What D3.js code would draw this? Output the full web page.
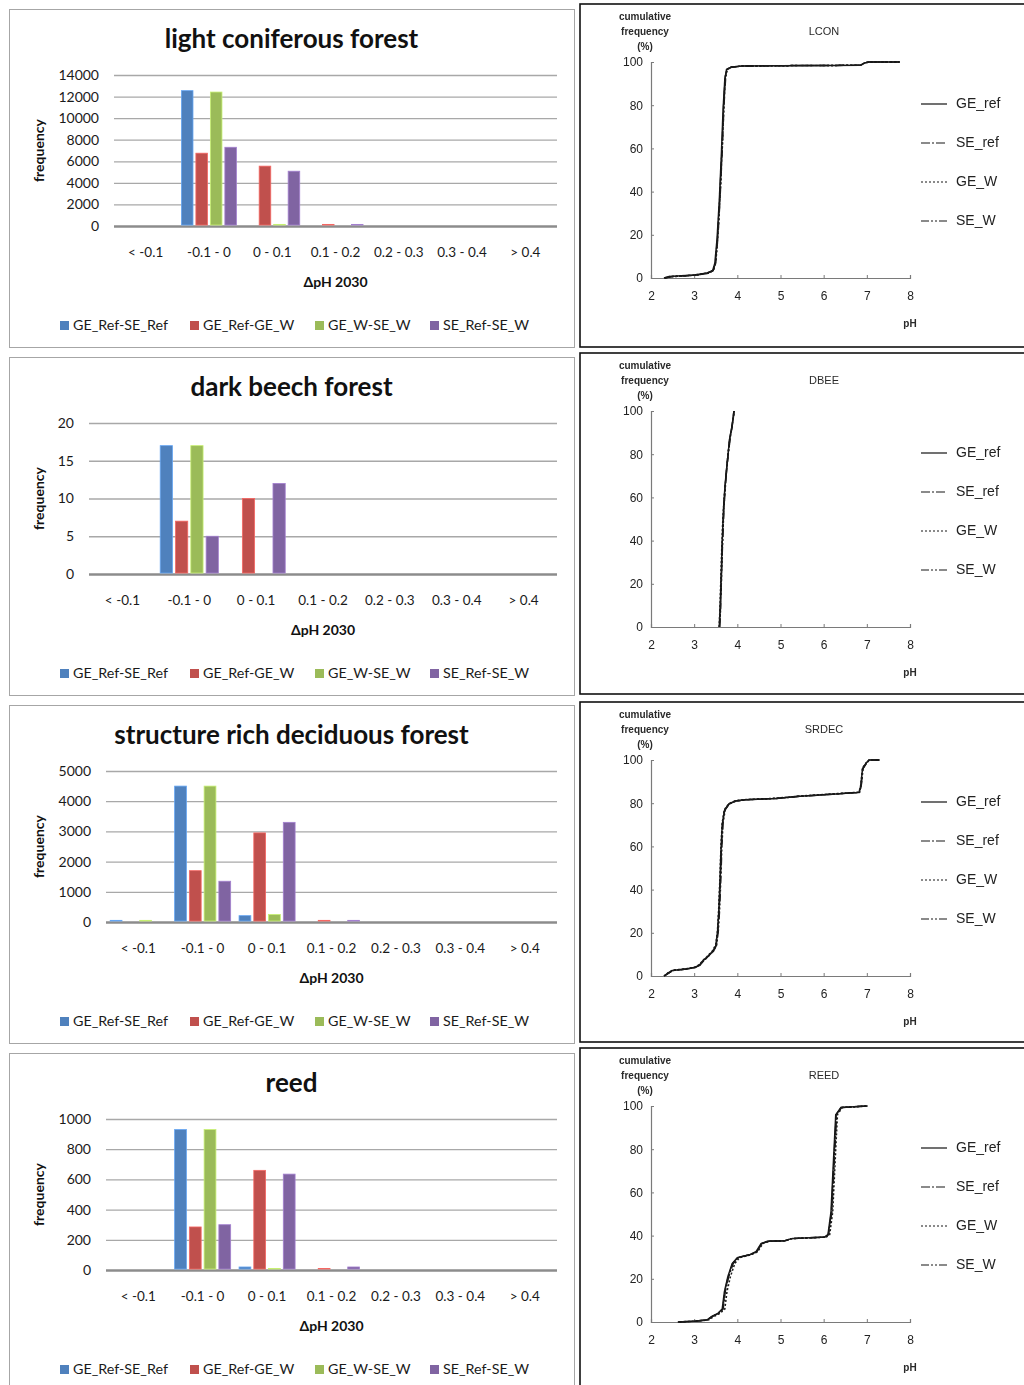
<!DOCTYPE html>
<html>
<head>
<meta charset="utf-8">
<script src="https://cdn.jsdelivr.net/npm/d3@7"></script>
<style>
  html, body { margin: 0; padding: 0; background: #fff; }
  svg { display: block; }
</style>
</head>
<body>
<svg id="chart" width="1024" height="1385"></svg>
<script>
// ---- Histogram data: frequency of pH difference classes (2030) ----
const categories = ["< -0.1", "-0.1 - 0", "0 - 0.1", "0.1 - 0.2", "0.2 - 0.3", "0.3 - 0.4", "> 0.4"];
const diffSeries = ["GE_Ref-SE_Ref", "GE_Ref-GE_W", "GE_W-SE_W", "SE_Ref-SE_W"];
const diffColors = ["#4f81bd", "#c0504d", "#9bbb59", "#8064a2"];

// one row per series, one value per category
const lconFreq = [
  [0, 12550, 0, 0, 0, 0, 0],
  [0, 6750, 5550, 150, 0, 0, 0],
  [0, 12420, 150, 0, 0, 0, 0],
  [0, 7300, 5080, 150, 0, 0, 0]
];
const dbeeFreq = [
  [0, 17, 0, 0, 0, 0, 0],
  [0, 7, 10, 0, 0, 0, 0],
  [0, 17, 0, 0, 0, 0, 0],
  [0, 5, 12, 0, 0, 0, 0]
];
const srdecFreq = [
  [55, 4500, 210, 0, 0, 0, 0],
  [0, 1700, 2950, 55, 0, 0, 0],
  [55, 4500, 250, 0, 0, 0, 0],
  [0, 1350, 3300, 55, 0, 0, 0]
];
const reedFreq = [
  [0, 930, 20, 0, 0, 0, 0],
  [0, 285, 660, 10, 0, 0, 0],
  [0, 930, 10, 0, 0, 0, 0],
  [0, 300, 635, 20, 0, 0, 0]
];

const lconTicks = [0, 2000, 4000, 6000, 8000, 10000, 12000, 14000];
const dbeeTicks = [0, 5, 10, 15, 20];
const srdecTicks = [0, 1000, 2000, 3000, 4000, 5000];
const reedTicks = [0, 200, 400, 600, 800, 1000];

const histTitles = ["light coniferous forest", "dark beech forest", "structure rich deciduous forest", "reed"];

// ---- Cumulative frequency curves: [pH, cumulative %] ----
const cumSeries = ["GE_ref", "SE_ref", "GE_W", "SE_W"];
const cumTitles = ["LCON", "DBEE", "SRDEC", "REED"];
const phTicks = [2, 3, 4, 5, 6, 7, 8];
const pctTicks = [0, 20, 40, 60, 80, 100];

const lconGeRef = [[2.30,0],[2.42,0.7],[2.7,1.0],[3.0,1.4],[3.3,2.3],[3.43,3.5],[3.48,7],[3.53,18],[3.58,35],[3.63,57],[3.67,78],[3.71,92],[3.75,96.5],[3.85,97.6],[4.1,98.1],[5.0,98.3],[6.0,98.4],[6.85,98.5],[6.95,99.6],[7.05,100],[7.76,100]];
const lconSeRef = [[2.32,0],[2.45,0.6],[2.72,0.9],[3.02,1.3],[3.32,2.2],[3.44,3.4],[3.49,7],[3.54,18],[3.59,36],[3.64,58],[3.68,79],[3.72,93],[3.76,96.6],[3.86,97.6],[4.1,98.1],[5.0,98.3],[6.0,98.4],[6.86,98.5],[6.96,99.6],[7.05,100],[7.76,100]];
const lconGeW = [[2.31,0],[2.44,0.7],[2.7,0.9],[3.0,1.4],[3.31,2.3],[3.44,3.6],[3.5,8],[3.55,20],[3.6,38],[3.65,60],[3.69,81],[3.72,93],[3.76,96.7],[3.86,97.7],[4.1,98.1],[5.0,98.3],[6.0,98.4],[6.85,98.5],[6.95,99.6],[7.05,100],[7.76,100]];
const lconSeW = [[2.33,0],[2.46,0.6],[2.74,0.9],[3.03,1.3],[3.33,2.2],[3.45,3.5],[3.5,7],[3.55,19],[3.6,37],[3.65,59],[3.69,80],[3.73,93],[3.77,96.6],[3.87,97.6],[4.1,98.1],[5.0,98.3],[6.0,98.4],[6.86,98.5],[6.96,99.6],[7.05,100],[7.76,100]];

const dbeeGeRef = [[3.58,0],[3.6,8],[3.62,20],[3.64,33],[3.66,45],[3.68,55],[3.71,64],[3.74,71],[3.78,79],[3.82,87],[3.86,91],[3.89,95],[3.92,100]];
const dbeeSeRef = [[3.59,0],[3.61,9],[3.63,22],[3.65,36],[3.67,47],[3.69,57],[3.72,66],[3.76,74],[3.8,82],[3.84,88],[3.88,93],[3.9,96],[3.93,100]];
const dbeeGeW = [[3.58,0],[3.6,10],[3.62,24],[3.64,37],[3.66,48],[3.69,58],[3.72,66],[3.75,73],[3.79,81],[3.83,88],[3.87,92],[3.9,96],[3.92,100]];
const dbeeSeW = [[3.59,0],[3.61,8],[3.63,21],[3.65,34],[3.67,46],[3.7,58],[3.73,67],[3.76,75],[3.8,83],[3.83,88],[3.87,92],[3.9,96],[3.93,100]];

const srdecGeRef = [[2.30,0],[2.4,1.5],[2.5,2.6],[2.8,3.2],[3.0,3.9],[3.12,5],[3.2,7],[3.3,8.8],[3.43,11.5],[3.5,14],[3.54,20],[3.57,30],[3.6,45],[3.62,58],[3.65,70],[3.7,76.5],[3.8,79.5],[3.95,81],[4.2,81.6],[4.9,82.2],[5.45,83.2],[6.2,84.2],[6.82,85],[6.86,88],[6.9,96],[6.98,98.5],[7.05,100],[7.29,100]];
const srdecSeRef = [[2.31,0],[2.41,1.4],[2.52,2.6],[2.82,3.2],[3.02,3.9],[3.13,5],[3.21,7],[3.31,8.8],[3.44,11.5],[3.51,14],[3.55,21],[3.58,31],[3.61,46],[3.63,59],[3.66,71],[3.71,77],[3.81,79.8],[3.96,81],[4.2,81.6],[4.9,82.2],[5.45,83.2],[6.2,84.2],[6.83,85],[6.87,88.5],[6.91,96],[6.99,98.5],[7.06,100],[7.29,100]];
const srdecGeW = [[2.30,0],[2.4,1.6],[2.5,2.7],[2.8,3.3],[3.0,4.0],[3.12,5.2],[3.2,7.2],[3.3,9],[3.43,11.8],[3.5,14.5],[3.54,21],[3.57,32],[3.6,47],[3.62,60],[3.65,71],[3.7,77],[3.8,79.8],[3.95,81.1],[4.2,81.7],[4.9,82.3],[5.45,83.3],[6.2,84.3],[6.82,85.1],[6.86,88.5],[6.9,96.5],[6.98,98.6],[7.05,100],[7.29,100]];
const srdecSeW = [[2.31,0],[2.42,1.5],[2.52,2.6],[2.82,3.2],[3.02,3.9],[3.14,5.1],[3.22,7.1],[3.32,8.9],[3.45,11.6],[3.52,14.2],[3.56,21],[3.59,31],[3.62,46],[3.64,59],[3.67,71],[3.72,77],[3.82,79.8],[3.97,81],[4.2,81.6],[4.9,82.2],[5.45,83.2],[6.2,84.2],[6.83,85],[6.87,88],[6.91,96],[6.99,98.5],[7.06,100],[7.29,100]];

const reedGeRef = [[2.62,0],[3.0,0.4],[3.3,1],[3.4,2.5],[3.55,4],[3.65,6],[3.7,14],[3.78,21],[3.88,27],[4.0,29.8],[4.3,31.3],[4.43,32.5],[4.55,36.3],[4.7,37.4],[5.1,37.6],[5.25,38.6],[6.02,39.3],[6.1,40.5],[6.17,51],[6.24,80],[6.28,96],[6.4,99.3],[7.02,100]];
const reedSeRef = [[2.64,0],[3.02,0.4],[3.32,1],[3.42,2.6],[3.57,4],[3.67,6],[3.72,14],[3.8,21],[3.9,27],[4.02,29.8],[4.32,31.3],[4.45,32.5],[4.57,36.3],[4.72,37.4],[5.1,37.6],[5.26,38.6],[6.03,39.3],[6.11,40.5],[6.18,51],[6.25,80],[6.29,96],[6.41,99.3],[7.02,100]];
const reedGeW = [[2.66,0],[3.04,0.4],[3.34,1],[3.45,2.5],[3.6,4],[3.71,6],[3.76,14],[3.84,21],[3.94,27],[4.05,29.8],[4.34,31.3],[4.47,32.5],[4.59,36.3],[4.74,37.4],[5.12,37.6],[5.27,38.6],[6.06,39.3],[6.14,40.5],[6.21,51],[6.28,80],[6.32,96],[6.43,99.3],[7.02,100]];
const reedSeW = [[2.63,0],[3.01,0.4],[3.31,1],[3.41,2.5],[3.56,4],[3.66,6],[3.71,14],[3.79,21],[3.89,27],[4.01,29.8],[4.31,31.3],[4.44,32.5],[4.56,36.3],[4.71,37.4],[5.1,37.6],[5.25,38.6],[6.03,39.3],[6.11,40.5],[6.19,51],[6.26,80],[6.3,96],[6.41,99.3],[7.02,100]];

const histData = [
  { freq: lconFreq, ticks: lconTicks },
  { freq: dbeeFreq, ticks: dbeeTicks },
  { freq: srdecFreq, ticks: srdecTicks },
  { freq: reedFreq, ticks: reedTicks }
];
const cumData = [
  [lconGeRef, lconSeRef, lconGeW, lconSeW],
  [dbeeGeRef, dbeeSeRef, dbeeGeW, dbeeSeW],
  [srdecGeRef, srdecSeRef, srdecGeW, srdecSeW],
  [reedGeRef, reedSeRef, reedGeW, reedSeW]
];

// ---- layout ----
const svg = d3.select("#chart");
const histTops = [9, 357, 705, 1053];
const histPlotLeft = [114, 89, 106, 106];
const cumTops = [4, 353, 702, 1048];
const cumHeights = [343, 341, 340, 400];
const dashes = [null, "9,2,2,2", "2,2", "8,2,2,2,2,2"];

const defs = svg.append("defs");
defs.append("filter").attr("id", "soft")
  .attr("x", "-5%").attr("y", "-5%").attr("width", "110%").attr("height", "110%")
  .append("feGaussianBlur").attr("stdDeviation", 0.45);

// ---- histograms ----
histData.forEach((d, i) => {
  const top = histTops[i];
  const g = svg.append("g");
  g.append("rect")
    .attr("x", 9.5).attr("y", top + 0.5).attr("width", 565).attr("height", 338)
    .attr("fill", "#fff").attr("stroke", "#a6a6a6").attr("stroke-width", 1);

  const left = histPlotLeft[i], right = 557;
  const yTop = top + 66, yBot = top + 217;
  const y = d3.scaleLinear().domain([0, d3.max(d.ticks)]).range([yBot, yTop]);
  const x0 = d3.scaleBand().domain(categories).range([left, right]).paddingInner(0.13).paddingOuter(0.065);
  const x1 = d3.scaleBand().domain(diffSeries).range([0, x0.bandwidth()]).paddingInner(0.2);

  // title
  g.append("text")
    .attr("x", 291.5).attr("y", top + 32)
    .attr("text-anchor", "middle").attr("dominant-baseline", "middle")
    .style("font", "bold 26px Lato").style("fill", "#111")
    .text(histTitles[i]);

  // gridlines + value labels
  const yAxis = g.append("g")
    .attr("transform", `translate(${left},0)`)
    .call(d3.axisLeft(y).tickValues(d.ticks).tickSize(-(right - left)).tickPadding(15).tickFormat(d3.format("d")));
  yAxis.select(".domain").remove();
  yAxis.selectAll(".tick line")
    .attr("stroke", v => v === 0 ? "#8c8c8c" : "#a8a8a8")
    .attr("stroke-width", v => v === 0 ? 2.6 : 1.3);
  yAxis.selectAll(".tick text")
    .style("font", "14px Lato").style("fill", "#1a1a1a");

  // bars
  const groups = g.append("g").selectAll("g")
    .data(categories).join("g")
    .attr("transform", c => `translate(${x0(c)},0)`);
  groups.selectAll("rect")
    .data((c, ci) => diffSeries.map((s, si) => ({ s, si, v: d.freq[si][ci] })))
    .join("rect")
    .filter(b => b.v > 0)
    .attr("x", b => x1(b.s))
    .attr("width", x1.bandwidth())
    .attr("y", b => y(b.v))
    .attr("height", b => yBot - 1 - y(b.v) > 0 ? yBot - 1 - y(b.v) : 1.5)
    .attr("fill", b => diffColors[b.si])
    .attr("stroke", b => d3.color(diffColors[b.si]).brighter(0.7))
    .attr("stroke-width", 0.8);

  // category labels
  const xAxis = g.append("g")
    .attr("transform", `translate(0,${yBot})`)
    .call(d3.axisBottom(x0).tickSize(0).tickPadding(21));
  xAxis.select(".domain").remove();
  xAxis.selectAll(".tick text")
    .style("font", "13.5px Lato").style("fill", "#1a1a1a");

  // axis titles
  g.append("text")
    .attr("x", (left + right) / 2).attr("y", yBot + 57)
    .attr("text-anchor", "middle").attr("dominant-baseline", "middle")
    .style("font", "bold 14px Lato").style("fill", "#111")
    .text("ΔpH 2030");
  g.append("text")
    .attr("transform", `translate(40,${(yTop + yBot) / 2}) rotate(-90)`)
    .attr("text-anchor", "middle").attr("dominant-baseline", "middle")
    .style("font", "bold 14px Lato").style("fill", "#111")
    .text("frequency");

  // legend
  const legX = [60, 190, 315, 430];
  const leg = g.append("g").selectAll("g").data(diffSeries).join("g")
    .attr("transform", (s, si) => `translate(${legX[si]},${yBot + 100})`);
  leg.append("rect").attr("x", 0).attr("y", -5).attr("width", 9).attr("height", 9)
    .attr("fill", (s, si) => diffColors[si]);
  leg.append("text").attr("x", 13).attr("y", 0)
    .attr("dominant-baseline", "middle")
    .style("font", "14.3px Lato").style("fill", "#1a1a1a")
    .text(s => s);
});

// ---- cumulative frequency panels ----
cumData.forEach((curves, i) => {
  const top = cumTops[i];
  const g = svg.append("g");
  g.append("rect")
    .attr("x", 580).attr("y", top).attr("width", 460).attr("height", cumHeights[i])
    .attr("fill", "#fff").attr("stroke", "#111").attr("stroke-width", 1.6);

  const inner = g.append("g").attr("filter", "url(#soft)");
  const x = d3.scaleLinear().domain([2, 8]).range([651, 910]);
  const y = d3.scaleLinear().domain([0, 100]).range([top + 274, top + 58]);

  const xa = inner.append("g").attr("transform", `translate(0,${top + 274})`)
    .call(d3.axisBottom(x).tickValues(phTicks).tickSize(-3).tickPadding(13).tickFormat(d3.format("d")));
  const ya = inner.append("g").attr("transform", "translate(651,0)")
    .call(d3.axisLeft(y).tickValues(pctTicks).tickSize(-3).tickPadding(8).tickFormat(d3.format("d")));
  [xa, ya].forEach(a => {
    a.select(".domain").attr("stroke", "#7a7a7a").attr("stroke-width", 1.2);
    a.selectAll(".tick line").attr("stroke", "#7a7a7a");
    a.selectAll(".tick text").style("font", "12px 'Liberation Sans'").style("fill", "#222");
  });

  const line = d3.line().x(p => x(p[0])).y(p => y(p[1]));
  inner.append("g").selectAll("path").data(curves).join("path")
    .attr("d", line)
    .attr("fill", "none")
    .attr("stroke", "#1a1a1a")
    .attr("stroke-width", 1.5)
    .attr("stroke-dasharray", (c, ci) => dashes[ci]);

  // labels
  const lab = (tx, ty, txt, font, anchor) => inner.append("text")
    .attr("x", tx).attr("y", ty).attr("text-anchor", anchor || "middle")
    .attr("dominant-baseline", "middle")
    .style("font", font).style("fill", "#2a2a2a").text(txt);
  lab(645, top + 13, "cumulative", "bold 10px 'Liberation Sans'");
  lab(645, top + 28, "frequency", "bold 10px 'Liberation Sans'");
  lab(645, top + 43, "(%)", "bold 10px 'Liberation Sans'");
  lab(824, top + 28, cumTitles[i], "11px 'Liberation Sans'");
  lab(910, top + 320, "pH", "bold 10px 'Liberation Sans'");

  // legend
  const leg = inner.append("g").selectAll("g").data(cumSeries).join("g")
    .attr("transform", (s, si) => `translate(921,${top + 100 + si * 39})`);
  leg.append("line").attr("x1", 0).attr("x2", 26).attr("y1", 0).attr("y2", 0)
    .attr("stroke", "#1a1a1a").attr("stroke-width", 1.2)
    .attr("stroke-dasharray", (s, si) => dashes[si]);
  leg.append("text").attr("x", 35).attr("y", 0).attr("dominant-baseline", "middle")
    .style("font", "14px 'Liberation Sans'").style("fill", "#222")
    .text(s => s);
});
</script>
</body>
</html>
